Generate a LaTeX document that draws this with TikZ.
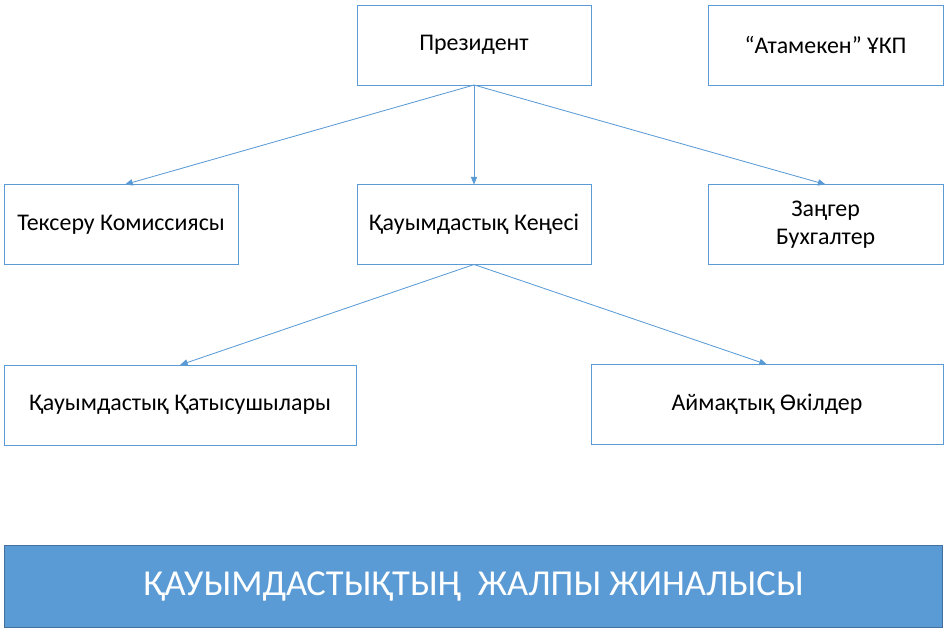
\documentclass[tikz,border=0pt]{standalone}
\usepackage{fontspec}
\setmainfont{Carlito}
\usetikzlibrary{arrows.meta,positioning}
\definecolor{lineblue}{HTML}{5B9BD5}
\definecolor{barblue}{HTML}{5B9BD5}
\definecolor{bardark}{HTML}{41719C}

\begin{document}
\begin{tikzpicture}[>={Triangle[length=5.5pt,width=4.5pt]},
  unit/.style={draw=lineblue,line width=0.7pt,fill=white,minimum height=2cm,
    inner sep=2pt,outer sep=0pt,align=center,font=\fontsize{17}{20}\selectfont},
  small/.style={unit,minimum width=5.85cm},
  wide/.style={unit,minimum width=8.8cm},
  link/.style={draw=lineblue,line width=0.6pt,->},
  bar/.style={draw=bardark,line width=0.7pt,fill=barblue,text=white,
    minimum width=23.45cm,minimum height=2.05cm,outer sep=0pt,
    font=\fontsize{26}{30}\selectfont}]

\useasboundingbox (0,0) rectangle (23.7,-15.775);

% top row
\node[small] (pres) at (11.85,-1.125) {Президент};
\node[small,minimum width=5.875cm] (atam) at (20.64,-1.125) {“Атамекен” ҰКП};

% second row
\node[small] (tekseru) at (3.025,-5.6125) {Тексеру Комиссиясы};
\node[small] (kenes) at (11.85,-5.6125) {Қауымдастық Кеңесі};
\node[small,minimum width=5.875cm] (zanger) at (20.64,-5.6125) {Заңгер\\Бухгалтер};

% third row
\node[wide] (katysu) at (4.5,-10.125) {Қауымдастық Қатысушылары};
\node[wide] (aimak) at (19.175,-10.1125) {Аймақтық Өкілдер};

% general meeting
\node[bar] (jinalys) at (11.8375,-14.65) {ҚАУЫМДАСТЫҚТЫҢ\ \ ЖАЛПЫ ЖИНАЛЫСЫ};

\draw[link] (pres.south) -- ([xshift=0.1cm]tekseru.north);
\draw[link] (pres.south) -- (kenes.north);
\draw[link] (pres.south) -- (zanger.north);
\draw[link] (kenes.south) -- (katysu.north);
\draw[link] (kenes.south) -- (aimak.north);
\end{tikzpicture}
\end{document}
